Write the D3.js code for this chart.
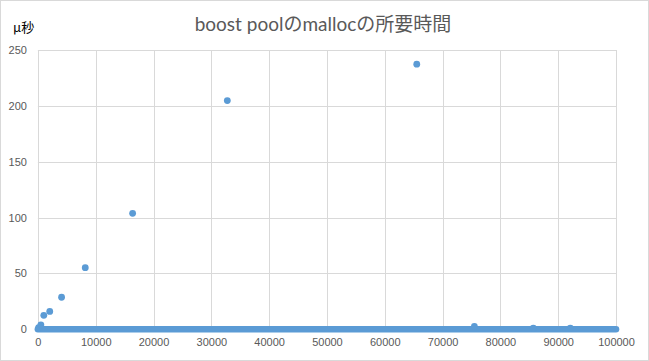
<!DOCTYPE html>
<html><head><meta charset="utf-8">
<script src="https://cdn.jsdelivr.net/npm/d3@7"></script>
<style>html,body{margin:0;padding:0;background:#fff;}svg{display:block;}</style>
</head><body>
<script>
// ---- data ----
const title = "boost poolのmallocの所要時間";
const yUnit = "μ秒";
const xTickValues = [0,10000,20000,30000,40000,50000,60000,70000,80000,90000,100000];
const yTickValues = [0,50,100,150,200,250];
// outlier points (n, microseconds)
const pointN =    [128, 512, 1024, 2048, 4096, 8192, 16384, 32768, 65536, 75500, 85700, 92100];
const pointTime = [1.5, 4,   12.5, 16,   28.7, 55.2, 103.8, 204.7, 237.3, 2.5,   1,     1];
// dense run of near-zero measurements spanning the whole range
const denseSpan = [0, 100000];
const denseTime = 0;

const W = 649, H = 361;
const m = {left: 37.9, right: 616, top: 50, bottom: 329.3};

const svg = d3.select("body").append("svg").attr("width", W).attr("height", H);
svg.append("rect").attr("x",0.5).attr("y",0.5).attr("width",W-1).attr("height",H-1)
  .attr("fill","#fff").attr("stroke","#d9d9d9");

const x = d3.scaleLinear().domain([0,100000]).range([m.left, m.right]);
const y = d3.scaleLinear().domain([0,250]).range([m.bottom, m.top]);

// gridlines
svg.append("g").selectAll("line").data(yTickValues).join("line")
  .attr("x1", m.left).attr("x2", m.right)
  .attr("y1", d => Math.round(y(d))+0.5).attr("y2", d => Math.round(y(d))+0.5)
  .attr("stroke","#d9d9d9").attr("stroke-width",1);
svg.append("g").selectAll("line").data(xTickValues).join("line")
  .attr("x1", d => Math.round(x(d))+0.5).attr("x2", d => Math.round(x(d))+0.5)
  .attr("y1", m.top).attr("y2", m.bottom)
  .attr("stroke","#d9d9d9").attr("stroke-width",1);

// axes labels via d3 axes
const yAxis = svg.append("g").attr("transform",`translate(${m.left},0)`)
  .call(d3.axisLeft(y).tickValues(yTickValues).tickSize(0).tickPadding(11).tickFormat(d3.format("d")));
const xAxis = svg.append("g").attr("transform",`translate(0,${m.bottom})`)
  .call(d3.axisBottom(x).tickValues(xTickValues).tickSize(0).tickPadding(9).tickFormat(d3.format("d")));
[yAxis, xAxis].forEach(g => {
  g.select(".domain").remove();
  g.selectAll("text").attr("fill","#595959").attr("font-family","Liberation Sans, Arial, sans-serif").attr("font-size","11px");
});

// dense band
svg.append("line")
  .attr("x1", x(denseSpan[0])).attr("x2", x(denseSpan[1]))
  .attr("y1", y(denseTime)).attr("y2", y(denseTime))
  .attr("stroke","#5b9bd5").attr("stroke-width",6.6).attr("stroke-linecap","round");

// points
svg.append("g").selectAll("circle").data(pointN.map((n,i)=>[n,pointTime[i]])).join("circle")
  .attr("cx", d => x(d[0])).attr("cy", d => y(d[1])).attr("r", 3.4).attr("fill","#5b9bd5");

// title
svg.append("text").attr("x", 323).attr("y", 31).attr("text-anchor","middle")
  .attr("font-family","Lato, Noto Sans CJK JP, sans-serif").attr("font-size","19px").attr("fill","#595959")
  .text(title);
svg.append("text").attr("x", 13).attr("y", 32)
  .attr("font-family","Noto Sans CJK JP, sans-serif").attr("font-size","13px").attr("fill","#000")
  .text(yUnit);
</script>
</body></html>
